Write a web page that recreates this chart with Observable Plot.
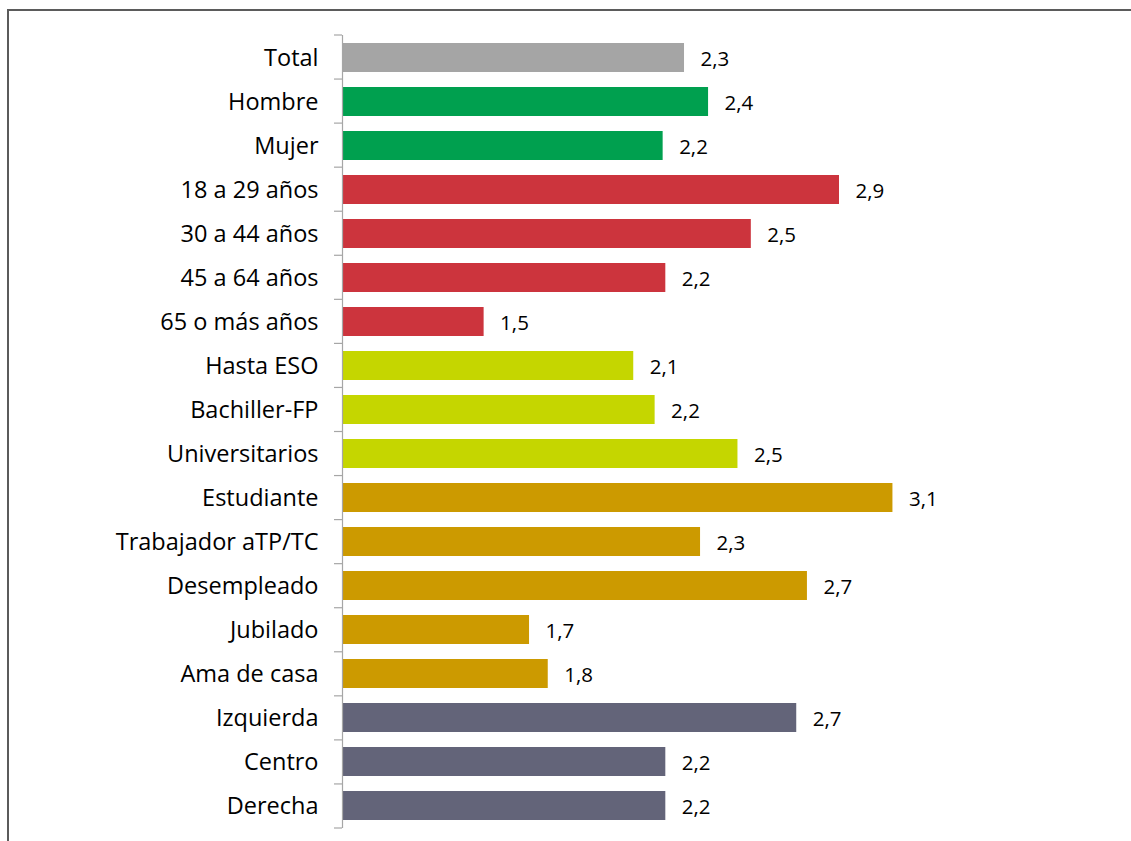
<!DOCTYPE html>
<html><head><meta charset="utf-8">
<script src="https://cdn.jsdelivr.net/npm/d3@7"></script>
<script src="https://cdn.jsdelivr.net/npm/@observablehq/plot@0.6"></script>
<style>
html,body{margin:0;padding:0;background:#fff;overflow:hidden}
#wrap{position:relative;width:1131px;height:841px}
#frame{position:absolute;left:7px;top:9px;width:1200px;height:900px;border-left:2px solid #5b5b5b;border-top:2px solid #5b5b5b}
#chart{position:absolute;left:0;top:0}
</style></head><body>
<div id="wrap"><div id="frame"></div><div id="chart"></div></div>
<script>
const categories = ["Total","Hombre","Mujer","18 a 29 años","30 a 44 años","45 a 64 años","65 o más años","Hasta ESO","Bachiller-FP","Universitarios","Estudiante","Trabajador aTP/TC","Desempleado","Jubilado","Ama de casa","Izquierda","Centro","Derecha"];
const groups = ["Total","Sexo","Sexo","Edad","Edad","Edad","Edad","Estudios","Estudios","Estudios","Situación","Situación","Situación","Situación","Situación","Ideología","Ideología","Ideología"];
const values = [2.28,2.37,2.20,2.86,2.53,2.21,1.53,2.09,2.17,2.48,3.06,2.34,2.74,1.70,1.77,2.70,2.21,2.21];
const groupNames = ["Total","Sexo","Edad","Estudios","Situación","Ideología"];
const groupColors = ["#a5a5a5","#00a04f","#cc343d","#c5d600","#cc9a00","#636479"];
const xDomain = [1, 3.5];

const data = categories.map((c, i) => ({cat: c, group: groups[i], value: values[i], label: values[i].toFixed(1).replace(".", ",")}));

function bandTicks(...args) {
  const scales = args.find(a => a && typeof a.x === "function");
  const dims = args.find(a => a && typeof a === "object" && "marginTop" in a && "height" in a);
  const n = categories.length;
  const top = dims.marginTop, bottom = dims.height - dims.marginBottom;
  const step = (bottom - top) / n;
  const x0 = scales.x(xDomain[0]);
  const g = d3.create("svg:g").attr("stroke", "#a6a6a6").attr("stroke-width", 1.2);
  for (let k = 0; k <= n; k++) {
    const yy = top + k * step;
    g.append("line").attr("x1", x0 - 8).attr("x2", x0).attr("y1", yy).attr("y2", yy);
  }
  return g.node();
}

const chart = Plot.plot({
  width: 1131,
  height: 841,
  marginLeft: 342,
  marginRight: 121,
  marginTop: 35,
  marginBottom: 13,
  style: {fontFamily: "'Open Sans', sans-serif", background: "transparent", color: "#000"},
  x: {domain: xDomain, axis: null},
  y: {domain: categories, paddingInner: 0.35, paddingOuter: 0.175, label: null},
  color: {domain: groupNames, range: groupColors},
  marks: [
    Plot.barX(data, {y: "cat", x1: xDomain[0], x2: "value", fill: "group"}),
    Plot.ruleX([xDomain[0]], {stroke: "#a6a6a6", strokeWidth: 1.2}),
    bandTicks,
    Plot.axisY({tickSize: 0, tickPadding: 24, fontSize: 23.5, label: null, fill: "#000"}),
    Plot.text(data, {y: "cat", x: "value", text: "label", dx: 16, dy: 1, textAnchor: "start", fontSize: 20.5, fill: "#000"})
  ]
});
document.getElementById("chart").appendChild(chart);
</script>
</body></html>
